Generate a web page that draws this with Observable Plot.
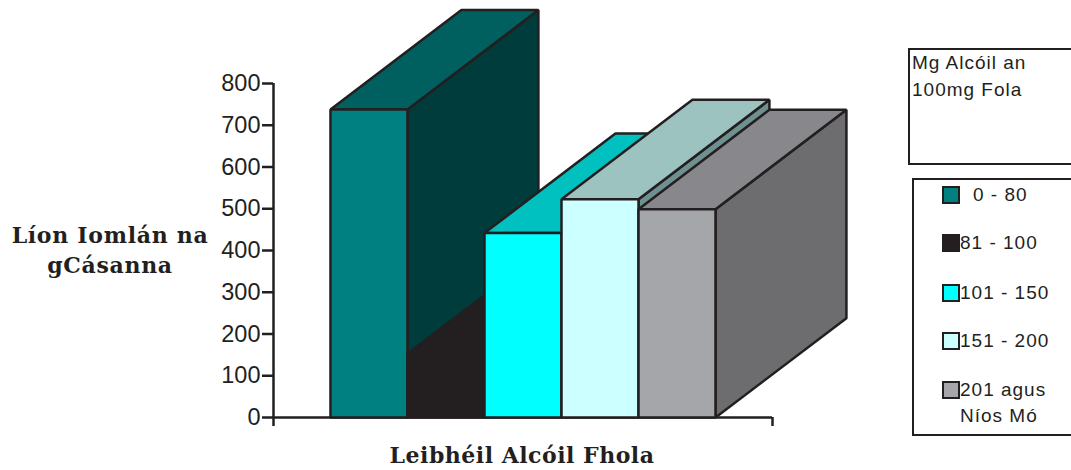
<!DOCTYPE html>
<html>
<head>
<meta charset="utf-8">
<script src="https://cdn.jsdelivr.net/npm/d3@7"></script>
<script src="https://cdn.jsdelivr.net/npm/@observablehq/plot@0.6"></script>
<style>
html,body{margin:0;padding:0;background:#fff;overflow:hidden}
#wrap{position:relative;width:1071px;height:470px;overflow:hidden}
#wrap svg{position:absolute;left:0;top:0;overflow:visible}
.t{position:absolute;color:#231f20;white-space:nowrap}
.ser{font-family:"DejaVu Serif",serif;font-weight:bold;font-size:22px;letter-spacing:.7px;text-align:center}
.san{font-family:"Liberation Sans",Arial,sans-serif;font-size:19px;letter-spacing:1px}
.box{position:absolute;border:2.5px solid #231f20;box-sizing:border-box;background:#fff}
.sw{position:absolute;width:18px;height:18px;border:2.5px solid #231f20;box-sizing:border-box}
</style>
</head>
<body>
<div id="wrap"></div>
<script>
const categories = ["0 - 80", "81 - 100", "101 - 150", "151 - 200", "201 agus Níos Mó"];
const values = [738, 153, 442, 523, 499];
const frontColors = ["#008080", "#231f20", "#00ffff", "#ccffff", "#a5a6aa"];
const topColors = ["#005f5f", "#231f20", "#00c0c0", "#9cc3c0", "#88888c"];
const sideColors = ["#003c3c", "#231f20", "#008f8f", "#6f9090", "#6d6d6f"];
const yTicks = [0, 100, 200, 300, 400, 500, 600, 700, 800];
const depthX = 1.70, depthY = 238;
const xStart = -0.74, xEnd = 5.74;
const ink = "#231f20";

const bars = values.map((v, i) => ({i, v, x1: i, x2: i + 1}));
const faces = bars.flatMap(b => {
  const top = [[b.x1, b.v], [b.x2, b.v], [b.x2 + depthX, b.v + depthY], [b.x1 + depthX, b.v + depthY]];
  const side = [[b.x2, b.v], [b.x2 + depthX, b.v + depthY], [b.x2 + depthX, depthY], [b.x2, 0]];
  const front = [[b.x1, b.v], [b.x2, b.v], [b.x2, 0], [b.x1, 0]];
  return [
    ...side.map(p => ({k: `${b.i}s`, x: p[0], y: p[1], c: sideColors[b.i]})),
    ...top.map(p => ({k: `${b.i}t`, x: p[0], y: p[1], c: topColors[b.i]})),
    ...front.map(p => ({k: `${b.i}f`, x: p[0], y: p[1], c: frontColors[b.i]}))
  ];
});

const chart = Plot.plot({
  width: 1071, height: 470,
  marginLeft: 273, marginRight: 299, marginTop: 83, marginBottom: 53,
  style: {background: "transparent", overflow: "visible"},
  x: {domain: [xStart, xEnd], label: null},
  y: {domain: [0, 800], label: null},
  marks: [
    Plot.axisY({ticks: yTicks, tickSize: 11, tickPadding: 2, label: null, stroke: ink, strokeWidth: 2.5,
      color: ink, fontSize: 23.5, fontFamily: "Liberation Sans, Arial, sans-serif", tickFormat: d => d}),
    Plot.axisX({ticks: [xStart, xEnd], tickSize: 9, tickFormat: () => "", label: null, stroke: ink, strokeWidth: 2.5}),
    Plot.ruleX([xStart], {stroke: ink, strokeWidth: 2.5}),
    Plot.ruleY([0], {stroke: ink, strokeWidth: 2.5}),
    Plot.line(faces, {x: "x", y: "y", z: "k", fill: "c", stroke: ink, strokeWidth: 2.5, curve: "linear-closed", strokeLinejoin: "miter"})
  ]
});
const wrap = document.getElementById("wrap");
wrap.appendChild(chart);

function add(cls, css, text) {
  const d = document.createElement("div");
  d.className = cls; d.style.cssText = css;
  if (text) d.innerHTML = text;
  wrap.appendChild(d);
}
add("t ser", "left:0;width:220px;top:220px;line-height:30px", "Líon Iomlán na<br>gCásanna");
add("t ser", "left:372px;width:300px;top:441px;line-height:28px;letter-spacing:.5px", "Leibhéil Alcóil Fhola");
add("box", "left:908px;top:48px;width:200px;height:117px");
add("t san", "left:912px;top:49px;line-height:27px", "Mg Alcóil an<br>100mg Fola");
add("box", "left:912px;top:178px;width:200px;height:258px");
const rowY = [195, 243, 293, 341, 390];
const rowX = [973, 960, 960, 960, 960];
categories.forEach((c, i) => {
  add("sw", `left:942px;top:${rowY[i] - 9}px;background:${frontColors[i]}`);
  const label = i === 4 ? "201 agus" : c;
  add("t san", `left:${rowX[i]}px;top:${rowY[i] - 11}px;line-height:22px`, label);
});
add("t san", "left:960px;top:405px;line-height:22px", "Níos Mó");
</script>
</body>
</html>
